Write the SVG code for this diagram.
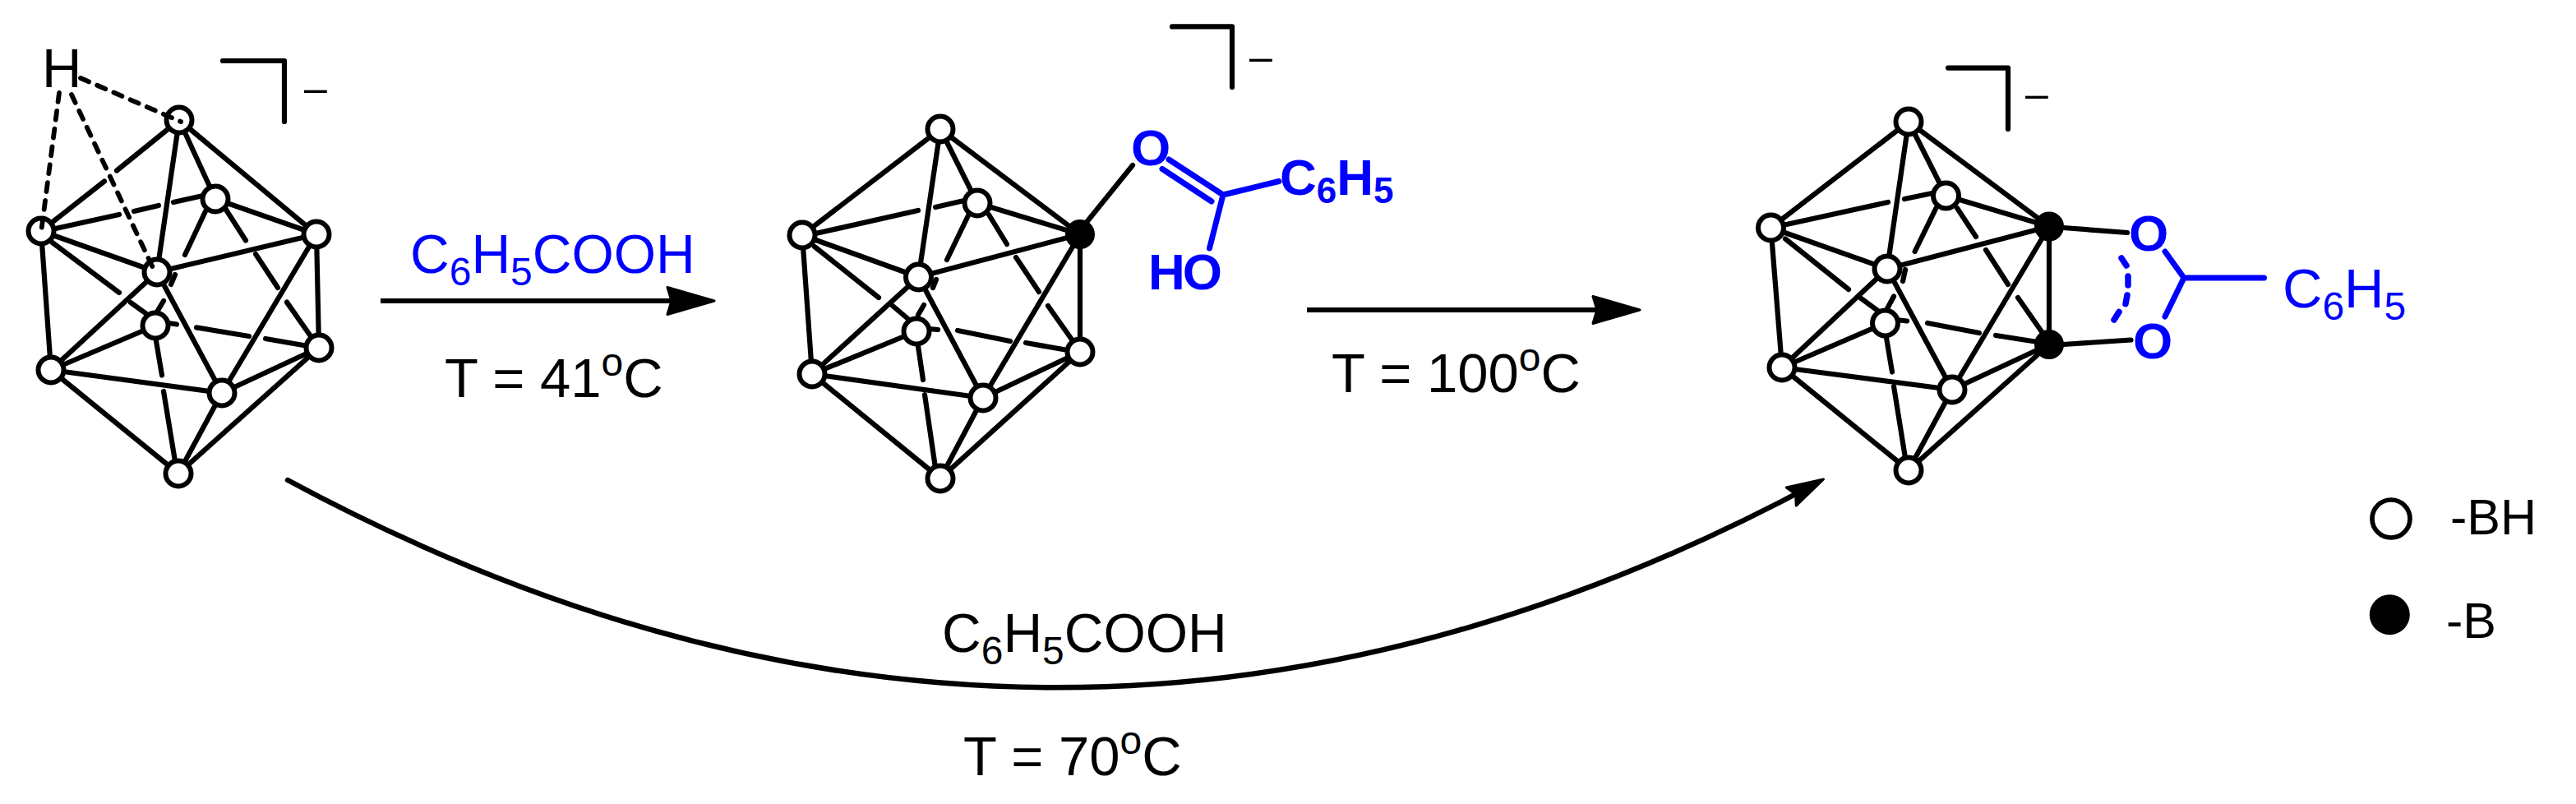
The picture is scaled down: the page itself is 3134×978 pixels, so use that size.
<svg xmlns="http://www.w3.org/2000/svg" width="3134" height="978" viewBox="0 0 3134 978">
<style>
text{font-family:"Liberation Sans",Arial,sans-serif;font-size:67px;fill:#000}
.blue{fill:#0000ff}
.bold{font-weight:bold;font-size:62px;fill:#0000ff}
.sub{font-size:48px}
.bsub{font-size:44px}
.dash{font-size:50px}
.reagent{font-size:66px}
.bond{fill:none;stroke:#000;stroke-width:6.200;stroke-linecap:round;stroke-linejoin:round}
.dashed{fill:none;stroke:#000;stroke-width:5.800;stroke-linecap:round;stroke-dasharray:11 11}
.bb{fill:none;stroke:#0000ff;stroke-width:7;stroke-linecap:round;stroke-linejoin:round}
.arrow{fill:none;stroke:#000;stroke-width:5.800}
.bh{fill:#fff;stroke:#000;stroke-width:6}
.b{fill:#000;stroke:#000;stroke-width:2}
</style>
<defs>
<marker id="head" markerUnits="userSpaceOnUse" markerWidth="70" markerHeight="44" refX="51" refY="22" orient="auto" overflow="visible">
<path d="M59 22L2 5.500L7 22L2 38.500Z" fill="#000" stroke="#000" stroke-width="3" stroke-linejoin="round"/>
</marker>
<marker id="head-small" markerUnits="userSpaceOnUse" markerWidth="56" markerHeight="32" refX="38" refY="16" orient="auto" overflow="visible">
<path d="M46.500 16L2 3.500L8 16L2 28.500Z" fill="#000" stroke="#000" stroke-width="3" stroke-linejoin="round"/>
</marker>
</defs>

<g id="connectors">
<g id="cluster1-bonds" class="bond">
<path d="M218 146L142 207.500M127 220.500L50 281M218 146L191 331M218 146L262 242M218 146L385 285M50 281L191 331M50 281L62 450M262 242L385 285M385 285L191 331M385 285L270 478M385 285L388 423M191 331L62 450M191 331L270 478M189 396L62 450M62 450L270 478M62 450L217 576M270 478L388 423M270 478L217 576M388 423L217 576"/>
<path d="M63 279L145 261M163 257L193 250M211 246L247 238M63 294.500L145 356M159 368L177 381M250 257L225 310M213 334L208 346M199 366L190 381M275 255L299 292.500M311 309L338 350M349 367.600L378 409M202 392.500L215 394.500M239 398.400L303 409M323 412L375 421M190 415L197 456.500M199 476L213 561"/>
</g>
<g id="cluster2-bonds" class="bond">
<path d="M1144 157L976 286M1144 157L1117.500 337M1144 157L1189 247M1144 157L1314 285M976 286L1117.500 337M976 286L988 455M1189 247L1314 285M1314 285L1117.500 337M1314 285L1196 484M1314 285L1314 428M1117.500 337L988 455M1117.500 337L1196 484M1115 403L988 455M988 455L1196 484M988 455L1144 582M1196 484L1314 428M1196 484L1144 582M1314 428L1144 582"/>
<path d="M988 285L1117 256M1138 252L1173 244M991 300L1069 362M1086 372L1106 389M1178.500 261L1152 316M1139 340L1135 350M1124 371L1117 383M1203 261L1225 297M1236 313L1264 355M1275 372L1304 413M1130 400L1141 401M1165 402L1229 415M1248 417L1299 426M1117 421L1123 462M1125 480L1138 569"/>
<path d="M1323 269L1378 201"/>
</g>
<g id="cluster3-bonds" class="bond">
<path d="M2322 148L2154.500 277M2322 148L2296 327M2322 148L2367.500 238M2322 148L2493 275.500M2154.500 277L2296 327M2154.500 277L2168 447M2367.500 238L2493 275.500M2493 275.500L2296 327M2493 275.500L2375 474M2493 275.500L2493 419M2296 327L2168 447M2296 327L2375 474M2293.500 393L2168 447M2168 447L2375 474M2168 447L2322 572M2375 474L2493 419M2375 474L2322 572M2493 419L2322 572"/>
<path d="M2169 274L2297 246M2317 242L2351 235M2172 290.500L2249 352M2263.600 362.500L2284 377.500M2355.500 253L2329.600 306M2318 328L2315 342M2304 360.500L2296 375.500M2381 253L2404 288M2416 304L2443 346M2455 362L2485 405M2307 389L2320 390.500M2345 393L2408 405M2428 408L2479 416M2295 411L2302 452.500M2304 470L2318 557"/>
<path d="M2510 277L2588 283M2510 419L2592.500 413.500"/>
</g>
<g id="substituent1-bonds" class="bb">
<path d="M1422 194L1488 237M1414 205.500L1474 245M1488 237L1556 220.500M1488 237L1471.500 302"/>
</g>
<g id="substituent2-bonds" class="bb">
<path d="M2634 306L2657 338L2634 385M2657 338L2754.500 338"/>
<path stroke-width="7.500" d="M2581 314L2587 323M2589 336L2589 347M2588 359L2586 369.600M2578 379.500L2572 389"/>
</g>
<g id="arrows" class="arrow">
<path id="arrow-1" d="M463 366L861 366" marker-end="url(#head)"/>
<path id="arrow-2" d="M1590 377L1987 377" marker-end="url(#head)"/>
<path id="arrow-3" d="M350 584Q1284 1087 2211 587" marker-end="url(#head-small)" style="stroke-width:6.400;stroke-linecap:round"/>
</g>
</g>

<g id="cluster1">
<g id="c1-a"><circle class="bh" cx="218" cy="146" r="15.500"/></g>
<g id="c1-b"><circle class="bh" cx="50" cy="281" r="15.500"/></g>
<g id="c1-c"><circle class="bh" cx="385" cy="285" r="15.500"/></g>
<g id="c1-d"><circle class="bh" cx="262" cy="242" r="15.500"/></g>
<g id="c1-e"><circle class="bh" cx="191" cy="331" r="15.500"/></g>
<g id="c1-f"><circle class="bh" cx="189" cy="396" r="15.500"/></g>
<g id="c1-g"><circle class="bh" cx="388" cy="423" r="15.500"/></g>
<g id="c1-h"><circle class="bh" cx="62" cy="450" r="15.500"/></g>
<g id="c1-i"><circle class="bh" cx="270" cy="478" r="15.500"/></g>
<g id="c1-j"><circle class="bh" cx="217" cy="576" r="15.500"/></g>
<g id="c1-hydrogen"><text x="51" y="106">H</text>
<path class="dashed" d="M72 113L50 283M87 115L188 330M98 95L220 148"/></g>
<g id="c1-charge"><path class="bond" d="M271 74L346 74L346 148"/><text class="dash" x="370" y="124">–</text></g>
</g>

<g id="cluster2">
<g id="c2-a"><circle class="bh" cx="1144" cy="157" r="15.500"/></g>
<g id="c2-b"><circle class="bh" cx="976" cy="286" r="15.500"/></g>
<g id="c2-c"><circle class="b" cx="1314" cy="285" r="17"/></g>
<g id="c2-d"><circle class="bh" cx="1189" cy="247" r="15.500"/></g>
<g id="c2-e"><circle class="bh" cx="1117.500" cy="337" r="15.500"/></g>
<g id="c2-f"><circle class="bh" cx="1115" cy="403" r="15.500"/></g>
<g id="c2-g"><circle class="bh" cx="1314" cy="428" r="15.500"/></g>
<g id="c2-h"><circle class="bh" cx="988" cy="455" r="15.500"/></g>
<g id="c2-i"><circle class="bh" cx="1196" cy="484" r="15.500"/></g>
<g id="c2-j"><circle class="bh" cx="1144" cy="582" r="15.500"/></g>
<g id="c2-charge"><path class="bond" d="M1426 32.400L1499 32.400L1499 106"/><text class="dash" x="1520" y="85.500">–</text></g>
<g id="c2-o"><text class="bold" x="1376" y="201">O</text></g>
<g id="c2-c6h5"><text class="bold" x="1557" y="237">C<tspan class="bsub" dy="10">6</tspan><tspan dy="-10">H</tspan><tspan class="bsub" dy="10">5</tspan></text></g>
<g id="c2-ho"><text class="bold" x="1397" y="352" letter-spacing="-3">HO</text></g>
</g>

<g id="cluster3">
<g id="c3-a"><circle class="bh" cx="2322" cy="148" r="15.500"/></g>
<g id="c3-b"><circle class="bh" cx="2154.500" cy="277" r="15.500"/></g>
<g id="c3-c"><circle class="b" cx="2493" cy="275.500" r="17"/></g>
<g id="c3-d"><circle class="bh" cx="2367.500" cy="238" r="15.500"/></g>
<g id="c3-e"><circle class="bh" cx="2296" cy="327" r="15.500"/></g>
<g id="c3-f"><circle class="bh" cx="2293.500" cy="393" r="15.500"/></g>
<g id="c3-g"><circle class="b" cx="2493" cy="419" r="17"/></g>
<g id="c3-h"><circle class="bh" cx="2168" cy="447" r="15.500"/></g>
<g id="c3-i"><circle class="bh" cx="2375" cy="474" r="15.500"/></g>
<g id="c3-j"><circle class="bh" cx="2322" cy="572" r="15.500"/></g>
<g id="c3-charge"><path class="bond" d="M2370 82.600L2443 82.600L2443 157"/><text class="dash" x="2464" y="131">–</text></g>
<g id="c3-o1"><text class="bold" x="2590" y="305">O</text></g>
<g id="c3-o2"><text class="bold" x="2595" y="436">O</text></g>
<g id="c3-c6h5"><text class="blue" x="2777" y="373.500">C<tspan class="sub" dy="15">6</tspan><tspan dy="-15">H</tspan><tspan class="sub" dy="15">5</tspan></text></g>
</g>

<g id="labels">
<text id="reagent-1" class="blue reagent" x="499" y="332">C<tspan class="sub" dy="15">6</tspan><tspan dy="-15">H</tspan><tspan class="sub" dy="15">5</tspan><tspan dy="-15">COOH</tspan></text>
<text id="temp-1" x="541" y="483">T = 41<tspan class="sub" dy="-26">o</tspan><tspan dy="26">C</tspan></text>
<text id="temp-2" x="1620" y="477">T = 100<tspan class="sub" dy="-26">o</tspan><tspan dy="26">C</tspan></text>
<text id="reagent-3" class="reagent" x="1146" y="793">C<tspan class="sub" dy="15">6</tspan><tspan dy="-15">H</tspan><tspan class="sub" dy="15">5</tspan><tspan dy="-15">COOH</tspan></text>
<text id="temp-3" x="1172" y="943">T = 70<tspan class="sub" dy="-26">o</tspan><tspan dy="26">C</tspan></text>
</g>

<g id="legend">
<g id="legend-bh"><circle class="bh" cx="2909" cy="631" r="23" style="stroke-width:5.700"/><text x="2981" y="650" style="font-size:61px">-BH</text></g>
<g id="legend-b"><circle cx="2907.300" cy="747.700" r="24.500" fill="#000"/><text x="2976" y="776" style="font-size:61px">-B</text></g>
</g>
</svg>
